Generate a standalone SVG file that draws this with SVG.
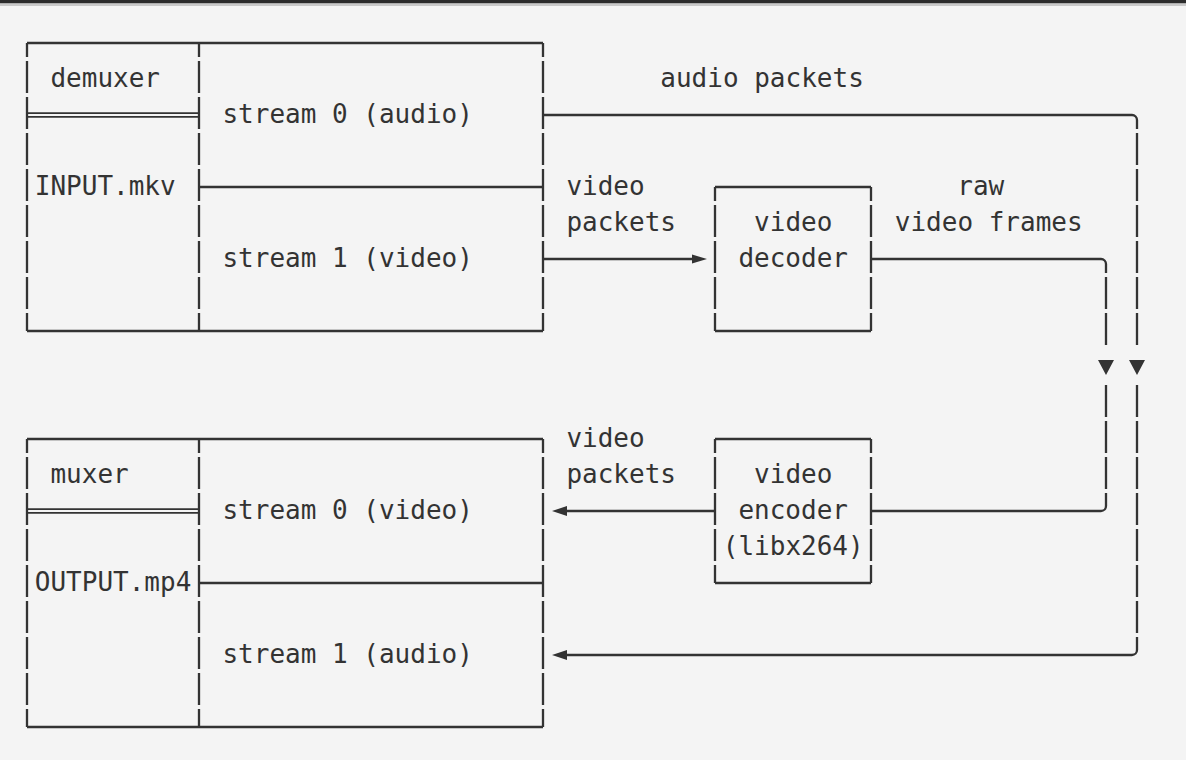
<svg xmlns="http://www.w3.org/2000/svg" width="1186" height="760" viewBox="0 0 1186 760">
<style>
text{font-family:"DejaVu Sans Mono","Liberation Mono",monospace;font-size:26px;fill:#333}
.s{stroke:#333;stroke-width:2.3;fill:none}
.v{stroke:#333;stroke-width:2.3;fill:none;stroke-dasharray:32 4;stroke-dashoffset:18}
.v0{stroke:#333;stroke-width:2.3;fill:none;stroke-dasharray:32 4;stroke-dashoffset:0}
.d{stroke:#333;stroke-width:1.8;fill:none}
.a{fill:#333}
</style>
<rect width="1186" height="760" fill="#f4f4f4"/>
<rect width="1186" height="3.5" fill="#2c2c2c"/>
<rect y="3.5" width="1186" height="2.5" fill="#c9c9c9"/>

<g id="demuxer">
<path class="s" d="M27,43 H543 M27,331 H543 M199,187 H543"/>
<path class="d" d="M27,113.2 H199 M27,116.8 H199"/>
<line class="v" x1="27" y1="43" x2="27" y2="331"/>
<line class="v" x1="199" y1="43" x2="199" y2="331"/>
<line class="v" x1="543" y1="43" x2="543" y2="331"/>
<text x="50.45" y="87">demuxer</text>
<text x="34.8" y="195">INPUT.mkv</text>
<text x="222.45" y="123">stream 0 (audio)</text>
<text x="222.45" y="267">stream 1 (video)</text>
</g>

<g id="decoder">
<path class="s" d="M715,187 H871 M715,331 H871"/>
<line class="v" x1="715" y1="187" x2="715" y2="331"/>
<line class="v" x1="871" y1="187" x2="871" y2="331"/>
<text x="754.1" y="231">video</text>
<text x="738.4" y="267">decoder</text>
</g>

<g id="muxer">
<path class="s" d="M27,439 H543 M27,727 H543 M199,583 H543"/>
<path class="d" d="M27,509.2 H199 M27,512.8 H199"/>
<line class="v" x1="27" y1="439" x2="27" y2="727"/>
<line class="v" x1="199" y1="439" x2="199" y2="727"/>
<line class="v" x1="543" y1="439" x2="543" y2="727"/>
<text x="50.45" y="483">muxer</text>
<text x="34.8" y="591">OUTPUT.mp4</text>
<text x="222.45" y="519">stream 0 (video)</text>
<text x="222.45" y="663">stream 1 (audio)</text>
</g>

<g id="encoder">
<path class="s" d="M715,439 H871 M715,583 H871"/>
<line class="v" x1="715" y1="439" x2="715" y2="583"/>
<line class="v" x1="871" y1="439" x2="871" y2="583"/>
<text x="754.1" y="483">video</text>
<text x="738.4" y="519">encoder</text>
<text x="722.8" y="555">(libx264)</text>
</g>

<g id="connectors">
<path class="s" d="M543,115 H1132 A5,5 0 0 1 1137,120 V129"/>
<line class="v0" x1="1137" y1="133" x2="1137" y2="345"/>
<polygon class="a" points="1129,360 1145,360 1137,375"/>
<line class="v0" x1="1137" y1="385" x2="1137" y2="641"/>
<path class="s" d="M1137,641 V650 A5,5 0 0 1 1132,655 H567"/>
<polygon class="a" points="552,655 567,650 567,660"/>
<text x="660.3" y="87">audio packets</text>
<path class="s" d="M543,259 H692"/>
<polygon class="a" points="692,254.5 707,259 692,263.5"/>
<text x="566.4" y="195">video</text>
<text x="566.4" y="231">packets</text>
<path class="s" d="M871,259 H1101 A5,5 0 0 1 1106,264 V273"/>
<line class="v0" x1="1106" y1="277" x2="1106" y2="345"/>
<polygon class="a" points="1098,360 1114,360 1106,375"/>
<line class="v0" x1="1106" y1="385" x2="1106" y2="489"/>
<path class="s" d="M1106,493 V506 A5,5 0 0 1 1101,511 H871"/>
<text x="957.3" y="195">raw</text>
<text x="894.8" y="231">video frames</text>
<path class="s" d="M715,511 H567"/>
<polygon class="a" points="552,511 567,506 567,516"/>
<text x="566.4" y="447">video</text>
<text x="566.4" y="483">packets</text>
</g>
</svg>
